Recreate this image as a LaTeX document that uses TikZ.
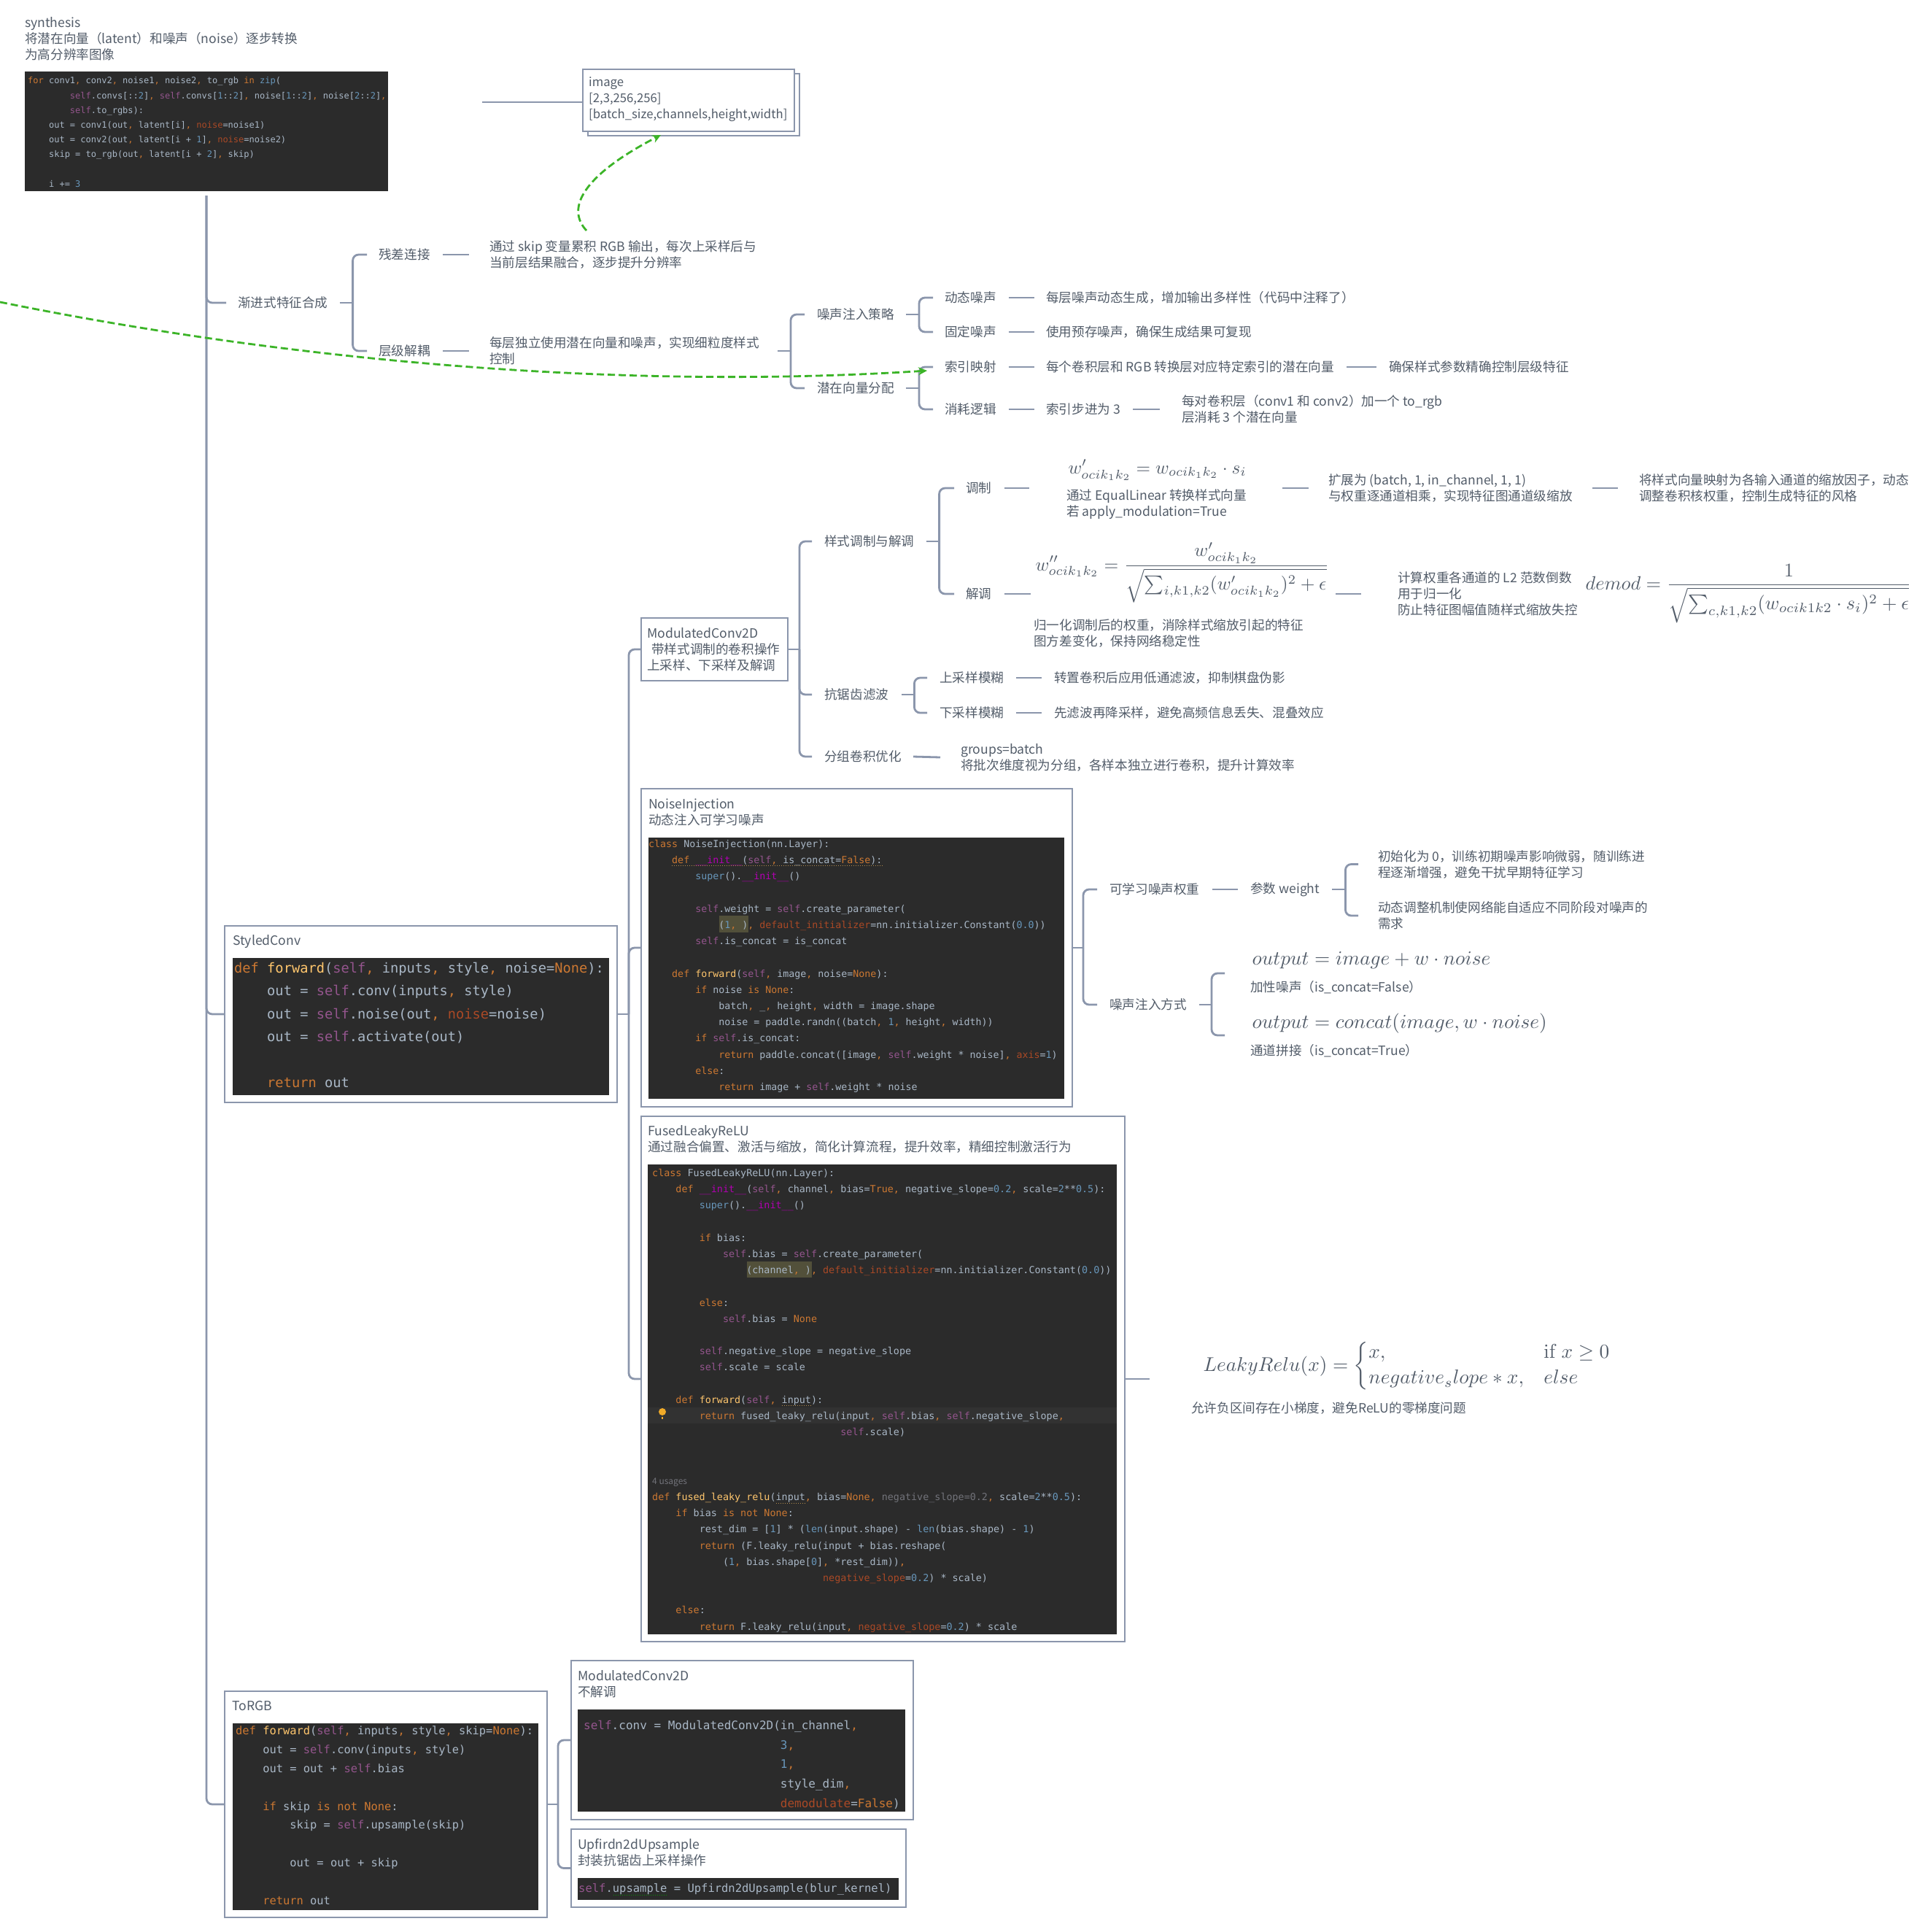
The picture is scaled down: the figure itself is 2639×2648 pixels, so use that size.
\documentclass[tikz,border=0pt]{standalone}
\usepackage{amsmath,amssymb}
\usepackage[no-math]{fontspec}
\setmainfont{Noto Sans CJK SC}
\setmonofont{DejaVu Sans Mono}
\usepackage{xcolor}
\usetikzlibrary{arrows.meta}
\definecolor{labelclr}{RGB}{82,92,105}
\definecolor{linkclr}{RGB}{139,150,172}
\definecolor{crossclr}{RGB}{60,180,40}
\definecolor{codebg}{RGB}{43,43,43}
\definecolor{codefg}{RGB}{169,183,198}
\definecolor{codekw}{RGB}{204,120,50}
\definecolor{codeself}{RGB}{148,85,141}
\definecolor{codenum}{RGB}{104,151,187}
\definecolor{codeprm}{RGB}{170,73,38}
\definecolor{codefnc}{RGB}{255,198,109}
\definecolor{codedun}{RGB}{178,0,178}
\definecolor{codedim}{RGB}{114,115,122}
\definecolor{codemark}{RGB}{82,80,58}
\definecolor{codeline}{RGB}{50,50,50}
\definecolor{bulbclr}{RGB}{240,170,40}
\tikzset{
  txt/.style={anchor=west,align=left,inner sep=0pt,text=labelclr,
              font=\fontsize{17.6}{22}\selectfont},
  fml/.style={anchor=base west,inner sep=0pt,text=labelclr,scale=2.73},
  boxframe/.style={anchor=north west,rectangle,draw=linkclr,line width=2.9pt,
              fill=white,inner sep=0pt,outer sep=0pt},
  codepanel/.style={anchor=north west,rectangle,fill=codebg,inner sep=0pt,outer sep=0pt},
  codetext/.style={anchor=north west,align=left,inner sep=0pt,text=codefg},
  link/.style={draw=linkclr,line width=2.8pt},
  hook/.style={link,rounded corners=8pt},
  crosslink/.style={-{Stealth[length=12pt,width=11pt]},draw=crossclr,line width=2.8pt,
              dash pattern=on 10pt off 5pt},
  squig/.style={line width=1pt,dotted},
}
\newcommand{\codefont}[2]{\fontsize{#1}{#2}\selectfont\ttfamily}
\newcommand{\ind}[1]{\leavevmode\hskip#1\fontcharwd\font`0\relax}
\newcommand{\kw}[1]{\textcolor{codekw}{#1}}
\newcommand{\slf}[1]{\textcolor{codeself}{#1}}
\newcommand{\nm}[1]{\textcolor{codenum}{#1}}
\newcommand{\prm}[1]{\textcolor{codeprm}{#1}}
\newcommand{\fnc}[1]{\textcolor{codefnc}{#1}}
\newcommand{\dun}[1]{\textcolor{codedun}{#1}}
\newcommand{\dimd}[1]{\textcolor{codedim}{#1}}
\begin{document}
\begin{tikzpicture}[x=1pt,y=-1pt]
\useasboundingbox (0,0) rectangle (2639,2648);
\node[txt] (synth) at (34,53) {synthesis\\将潜在向量（latent）和噪声（noise）逐步转换\\为高分辨率图像};
\node[codepanel,minimum width=498pt,minimum height=164pt] (synthcode) at (34,98) {};
\node[codetext,font=\codefont{12}{20.2}] (synthtext) at (38,100.6) {\strut\kw{for} conv1\kw{,} conv2\kw{,} noise1\kw{,} noise2\kw{,} to\_rgb \kw{in} \nm{zip}(\\
\ind{8}\slf{self}.convs[::\nm{2}]\kw{,} \slf{self}.convs[\nm{1}::\nm{2}]\kw{,} noise[\nm{1}::\nm{2}]\kw{,} noise[\nm{2}::\nm{2}]\kw{,}\\
\ind{8}\slf{self}.to\_rgbs):\\
\ind{4}out = conv1(out\kw{,} latent[i]\kw{,} \prm{noise}=noise1)\\
\ind{4}out = conv2(out\kw{,} latent[i + \nm{1}]\kw{,} \prm{noise}=noise2)\\
\ind{4}skip = to\_rgb(out\kw{,} latent[i + \nm{2}]\kw{,} skip)\\
\strut\\
\ind{4}i += \nm{3}};
\node[boxframe,minimum width=290pt,minimum height=85pt] (imageback) at (806,101) {};
\node[boxframe,minimum width=290pt,minimum height=85pt] (imagebox) at (799,95) {};
\node[txt,font=\fontsize{16.7}{22}\selectfont] (imagetxt) at (807,136) {image\\{[2,3,256,256]}\\{[batch\_size,channels,height,width]}};

\node[txt] (prog) at (326,415) {渐进式特征合成};
\node[txt] (resid) at (519,349) {残差连接};
\node[txt] (skipnote) at (671,349) {通过 skip 变量累积 RGB 输出，每次上采样后与\\当前层结果融合，逐步提升分辨率};
\node[txt] (layered) at (519,481) {层级解耦};
\node[txt] (laynote) at (671,481) {每层独立使用潜在向量和噪声，实现细粒度样式\\控制};
\node[txt] (noisestr) at (1120,431) {噪声注入策略};
\node[txt] (latalloc) at (1120,532) {潜在向量分配};
\node[txt] (dyn) at (1295,408) {动态噪声};
\node[txt] (dynnote) at (1434,408) {每层噪声动态生成，增加输出多样性（代码中注释了）};
\node[txt] (fixd) at (1295,455) {固定噪声};
\node[txt] (fixnote) at (1434,455) {使用预存噪声，确保生成结果可复现};
\node[txt] (idx) at (1295,503) {索引映射};
\node[txt] (idxnote) at (1434,503) {每个卷积层和 RGB 转换层对应特定索引的潜在向量};
\node[txt] (idxfin) at (1904,503) {确保样式参数精确控制层级特征};
\node[txt] (burn) at (1295,561) {消耗逻辑};
\node[txt] (burnstep) at (1434,561) {索引步进为 3};
\node[txt] (burnnote) at (1620,561) {每对卷积层（conv1 和 conv2）加一个 to\_rgb\\层消耗 3 个潜在向量};

\node[boxframe,minimum width=201pt,minimum height=86pt] (modconv) at (879,847) {};
\node[txt] (modtxt) at (887,890) {ModulatedConv2D\\\hspace*{6pt}带样式调制的卷积操作\\上采样、下采样及解调};
\node[txt] (styl) at (1130,742) {样式调制与解调};
\node[txt] (modu) at (1324,669) {调制};
\node[fml,scale=0.92] (wmod) at (1464,649) {$w'_{ocik_1k_2}=w_{ocik_1k_2}\cdot s_i$};
\node[txt] (wmodnote) at (1462,691) {通过 EqualLinear 转换样式向量\\若 apply\_modulation=True};
\coordinate (wmodend) at (1758,669);
\node[txt] (expand) at (1821,669) {扩展为 (batch, 1, in\_channel, 1, 1)\\与权重逐通道相乘，实现特征图通道级缩放};
\node[txt] (mapnote) at (2247,669) {将样式向量映射为各输入通道的缩放因子，动态\\调整卷积核权重，控制生成特征的风格};
\node[txt] (demo) at (1324,814) {解调};
\node[fml,scale=0.93] (wnorm) at (1419,782) {$\displaystyle w''_{ocik_1k_2}=\frac{w'_{ocik_1k_2}}{\sqrt{\sum_{i,k1,k2}(w'_{ocik_1k_2})^2+\epsilon}}$};
\node[txt] (wnormnote) at (1417,868) {归一化调制后的权重，消除样式缩放引起的特征\\图方差变化，保持网络稳定性};
\coordinate (wnormend) at (1831,814);
\node[txt] (l2note) at (1916,814) {计算权重各通道的 L2 范数倒数\\用于归一化\\防止特征图幅值随样式缩放失控};
\node[fml,scale=0.967] (demodf) at (2173,808) {$\displaystyle demod=\frac{1}{\sqrt{\sum_{c,k1,k2}(w_{ocik1k2}\cdot s_i)^2+\epsilon}}$};
\node[txt] (antialias) at (1130,952) {抗锯齿滤波};
\node[txt] (upblur) at (1288,929) {上采样模糊};
\node[txt] (upnote) at (1445,929) {转置卷积后应用低通滤波，抑制棋盘伪影};
\node[txt] (downblur) at (1288,977) {下采样模糊};
\node[txt] (downnote) at (1445,977) {先滤波再降采样，避免高频信息丢失、混叠效应};
\node[txt] (grouped) at (1130,1037) {分组卷积优化};
\node[txt] (groupnote) at (1317,1038) {groups=batch\\将批次维度视为分组，各样本独立进行卷积，提升计算效率};

\node[boxframe,minimum width=591pt,minimum height=436pt] (noisebox) at (879,1081) {};
\node[txt] (noisetxt) at (889,1113) {NoiseInjection\\动态注入可学习噪声};
\node[codepanel,minimum width=570pt,minimum height=358pt] (noisecode) at (889,1148) {};
\node[codepanel,fill=codemark,minimum width=40pt,minimum height=23pt] (noisemark) at (986,1255) {};
\node[codetext,font=\codefont{13.3}{22.2}] (noisetext) at (889,1145.8) {\strut\kw{class} NoiseInjection(nn.Layer):\\
\ind{4}\kw{def} \dun{\_\_init\_\_}(\slf{self}\kw{,} is\_concat=\kw{False}):\\
\ind{8}\nm{super}().\dun{\_\_init\_\_}()\\
\strut\\
\ind{8}\slf{self}.weight = \slf{self}.create\_parameter(\\
\ind{12}(\nm{1}\kw{,} )\kw{,} \prm{default\_initializer}=nn.initializer.Constant(\nm{0.0}))\\
\ind{8}\slf{self}.is\_concat = is\_concat\\
\strut\\
\ind{4}\kw{def} \fnc{forward}(\slf{self}\kw{,} image\kw{,} noise=\kw{None}):\\
\ind{8}\kw{if} noise \kw{is} \kw{None}:\\
\ind{12}batch\kw{,} \_\kw{,} height\kw{,} width = image.shape\\
\ind{12}noise = paddle.randn((batch\kw{,} \nm{1}\kw{,} height\kw{,} width))\\
\ind{8}\kw{if} \slf{self}.is\_concat:\\
\ind{12}\kw{return} paddle.concat([image\kw{,} \slf{self}.weight * noise]\kw{,} \prm{axis}=\nm{1})\\
\ind{8}\kw{else}:\\
\ind{12}\kw{return} image + \slf{self}.weight * noise};
\draw[squig,draw=codefnc!70!black] (921,1186) -- (1210,1186);
\node[txt] (learn) at (1521,1219) {可学习噪声权重};
\node[txt] (weight) at (1714,1219) {参数 weight};
\node[txt] (initnote) at (1889,1184.5) {初始化为 0，训练初期噪声影响微弱，随训练进\\程逐渐增强，避免干扰早期特征学习};
\node[txt] (adaptnote) at (1889,1255) {动态调整机制使网络能自适应不同阶段对噪声的\\需求};
\node[txt] (inject) at (1521,1377) {噪声注入方式};
\coordinate (addgrp) at (1714,1334);
\coordinate (concatgrp) at (1714,1419);
\node[fml] (addf) at (1716,1322) {$output=image+w\cdot noise$};
\node[txt] (addnote) at (1714,1353) {加性噪声（is\_concat=False）};
\node[fml] (concatf) at (1716,1409) {$output=concat(image,w\cdot noise)$};
\node[txt] (concatnote) at (1714,1440) {通道拼接（is\_concat=True）};

\node[boxframe,minimum width=663pt,minimum height=720pt] (fusedbox) at (879,1530) {};
\node[txt] (fusedtxt) at (888,1561) {FusedLeakyReLU\\通过融合偏置、激活与缩放，简化计算流程，提升效率，精细控制激活行为};
\node[codepanel,minimum width=643pt,minimum height=644pt] (fusedcode) at (888,1596) {};
\node[codepanel,fill=codemark,minimum width=89pt,minimum height=22pt] (fusedmark) at (1024,1729) {};
\node[codepanel,fill=codeline,minimum width=643pt,minimum height=22pt] (fusedline) at (888,1929) {};
\node[circle,fill=bulbclr,minimum size=10pt,inner sep=0pt] (bulb) at (908,1935) {};
\draw[draw=bulbclr,line width=2pt] ([yshift=-7pt]bulb.center) -- ++(0,3);
\node[codetext,font=\codefont{13.4}{22.2}] (fusedtext) at (894,1596.8) {\strut\kw{class} FusedLeakyReLU(nn.Layer):\\
\ind{4}\kw{def} \dun{\_\_init\_\_}(\slf{self}\kw{,} channel\kw{,} bias=\kw{True}\kw{,} negative\_slope=\nm{0.2}\kw{,} scale=\nm{2}**\nm{0.5}):\\
\ind{8}\nm{super}().\dun{\_\_init\_\_}()\\
\strut\\
\ind{8}\kw{if} bias:\\
\ind{12}\slf{self}.bias = \slf{self}.create\_parameter(\\
\ind{16}(channel\kw{,} )\kw{,} \prm{default\_initializer}=nn.initializer.Constant(\nm{0.0}))\\
\strut\\
\ind{8}\kw{else}:\\
\ind{12}\slf{self}.bias = \kw{None}\\
\strut\\
\ind{8}\slf{self}.negative\_slope = negative\_slope\\
\ind{8}\slf{self}.scale = scale\\
\strut\\
\ind{4}\kw{def} \fnc{forward}(\slf{self}\kw{,} input):\\
\ind{8}\kw{return} fused\_leaky\_relu(input\kw{,} \slf{self}.bias\kw{,} \slf{self}.negative\_slope\kw{,}\\
\ind{32}\slf{self}.scale)\\
\strut\\
\strut\\
\dimd{\rmfamily\fontsize{12}{22}\selectfont 4 usages}\\
\kw{def} \fnc{fused\_leaky\_relu}(input\kw{,} bias=\kw{None}\kw{,} \dimd{negative\_slope=0.2}\kw{,} scale=\nm{2}**\nm{0.5}):\\
\ind{4}\kw{if} bias \kw{is not} \kw{None}:\\
\ind{8}rest\_dim = [\nm{1}] * (\nm{len}(input.shape) - \nm{len}(bias.shape) - \nm{1})\\
\ind{8}\kw{return} (F.leaky\_relu(input + bias.reshape(\\
\ind{12}(\nm{1}\kw{,} bias.shape[\nm{0}]\kw{,} *rest\_dim))\kw{,}\\
\ind{29}\prm{negative\_slope}=\nm{0.2}) * scale)\\
\strut\\
\ind{4}\kw{else}:\\
\ind{8}\kw{return} F.leaky\_relu(input\kw{,} \prm{negative\_slope}=\nm{0.2}) * scale};
\draw[squig,draw=codefnc!70!black] (1072,1926) -- (1113,1926);
\draw[squig,draw=codefnc!70!black] (1064,2060) -- (1104,2060);
\node[fml] (leakyf) at (1649,1879) {\def\arraystretch{1.08}$LeakyRelu(x)=\left\{\begin{array}{@{}l@{\quad}l@{}}x,&\mathrm{if}\ x\geq 0\\negative_{s}lope*x,&else\end{array}\right.$};
\node[txt] (leakynote) at (1633,1930) {允许负区间存在小梯度，避免ReLU的零梯度问题};

\node[boxframe,minimum width=538pt,minimum height=242pt] (styled) at (308,1269) {};
\node[txt] (styledtxt) at (319,1291) {StyledConv};
\node[codepanel,minimum width=516pt,minimum height=188pt] (styledcode) at (319,1313) {};
\node[codetext,font=\codefont{18.7}{31.5}] (styledtext) at (321,1311) {\strut\kw{def} \fnc{forward}(\slf{self}\kw{,} inputs\kw{,} style\kw{,} noise=\kw{None}):\\
\ind{4}out = \slf{self}.conv(inputs\kw{,} style)\\
\ind{4}out = \slf{self}.noise(out\kw{,} \prm{noise}=noise)\\
\ind{4}out = \slf{self}.activate(out)\\
\strut\\
\ind{4}\kw{return} out};

\node[boxframe,minimum width=442pt,minimum height=310pt] (torgb) at (308,2318) {};
\node[txt] (torgbtxt) at (318,2338) {ToRGB};
\node[codepanel,minimum width=419pt,minimum height=256pt] (torgbcode) at (319,2362) {};
\node[codetext,font=\codefont{15.4}{25.8}] (torgbtext) at (323,2359.6) {\strut\kw{def} \fnc{forward}(\slf{self}\kw{,} inputs\kw{,} style\kw{,} skip=\kw{None}):\\
\ind{4}out = \slf{self}.conv(inputs\kw{,} style)\\
\ind{4}out = out + \slf{self}.bias\\
\strut\\
\ind{4}\kw{if} skip \kw{is not} \kw{None}:\\
\ind{8}skip = \slf{self}.upsample(skip)\\
\strut\\
\ind{8}out = out + skip\\
\strut\\
\ind{4}\kw{return} out};

\node[boxframe,minimum width=469pt,minimum height=218pt] (modnone) at (783,2276) {};
\node[txt] (modnonetxt) at (792,2308) {ModulatedConv2D\\不解调};
\node[codepanel,minimum width=449pt,minimum height=140pt] (modnonecode) at (792,2343) {};
\node[codetext,font=\codefont{16}{26.7}] (modnonetext) at (800,2351.6) {\strut\slf{self}.conv = ModulatedConv2D(in\_channel\kw{,}\\
\ind{28}\nm{3}\kw{,}\\
\ind{28}\nm{1}\kw{,}\\
\ind{28}style\_dim\kw{,}\\
\ind{28}\prm{demodulate}=\kw{False})};

\node[boxframe,minimum width=459pt,minimum height=107pt] (upfir) at (783,2507) {};
\node[txt] (upfirtxt) at (792,2539) {Upfirdn2dUpsample\\封装抗锯齿上采样操作};
\node[codepanel,minimum width=440pt,minimum height=30pt] (upfircode) at (792,2574) {};
\node[codetext,font=\codefont{15.5}{30}] (upfirtext) at (793,2572) {\strut\slf{self}.upsample = Upfirdn2dUpsample(blur\_kernel)};
\draw[squig,draw=green!60!black] (841,2597) -- (915,2597);

\coordinate (trunktop) at ([yshift=-6pt]synthcode.south);
\draw[hook] (trunktop) |- ([xshift=-16pt]prog.west);
\foreach \kid in {styled,torgb} \draw[hook] (trunktop) |- (\kid.west);
\coordinate (synthend) at (661,140);
\draw[link] (synthend) -- (synthend -| imagebox.west);

\draw[link] ([xshift=16pt]prog.east) -- ++(18,0) coordinate (progfork);
\foreach \kid in {resid,layered} \draw[hook] (progfork) |- ([xshift=-16pt]\kid.west);
\draw[link] ([xshift=17pt]resid.east) -- ([xshift=-28pt]skipnote.west);
\draw[link] ([xshift=17pt]layered.east) -- ([xshift=-28pt]laynote.west);
\draw[link] ([xshift=25pt]laynote.east) -- ++(18,0) coordinate (layfork);
\foreach \kid in {noisestr,latalloc} \draw[hook] (layfork) |- ([xshift=-17pt]\kid.west);
\draw[link] ([xshift=16pt]noisestr.east) -- ++(18,0) coordinate (strfork);
\foreach \kid in {dyn,fixd} \draw[hook] (strfork) |- ([xshift=-16pt]\kid.west);
\draw[link] ([xshift=16pt]latalloc.east) -- ++(18,0) coordinate (allocfork);
\foreach \kid in {idx,burn} \draw[hook] (allocfork) |- ([xshift=-16pt]\kid.west);
\draw[link] ([xshift=17pt]dyn.east) -- ([xshift=-16pt]dynnote.west);
\draw[link] ([xshift=17pt]fixd.east) -- ([xshift=-16pt]fixnote.west);
\draw[link] ([xshift=17pt]idx.east) -- ([xshift=-16pt]idxnote.west);
\draw[link] ([xshift=17pt]idxnote.east) -- ([xshift=-17pt]idxfin.west);
\draw[link] ([xshift=17pt]burn.east) -- ([xshift=-16pt]burnstep.west);
\draw[link] ([xshift=17pt]burnstep.east) -- ([xshift=-30pt]burnnote.west);

\draw[link] (styled.east) -- ++(16,0) coordinate (styledfork);
\foreach \kid in {modconv,noisebox,fusedbox} \draw[hook] (styledfork) |- (\kid.west);
\draw[link] (modconv.east) -- ++(16,0) coordinate (modfork);
\foreach \kid in {styl,antialias,grouped} \draw[hook] (modfork) |- ([xshift=-17pt]\kid.west);
\draw[link] ([xshift=16pt]styl.east) -- ++(18,0) coordinate (stylfork);
\foreach \kid in {modu,demo} \draw[hook] (stylfork) |- ([xshift=-16pt]\kid.west);
\draw[link] ([xshift=17pt]modu.east) -- ([xshift=-51pt]wmodnote.west |- modu.east);
\draw[link] (wmodend) -- ([xshift=-27pt]expand.west);
\draw[link] ([xshift=27pt]expand.east) -- ([xshift=-29pt]mapnote.west);
\draw[link] ([xshift=17pt]demo.east) -- ++(36,0);
\draw[link] (wnormend) -- ([xshift=-50pt]l2note.west);
\draw[link] ([xshift=18pt]antialias.east) -- ++(17,0) coordinate (aafork);
\foreach \kid in {upblur,downblur} \draw[hook] (aafork) |- ([xshift=-17pt]\kid.west);
\draw[link] ([xshift=17pt]upblur.east) -- ([xshift=-17pt]upnote.west);
\draw[link] ([xshift=17pt]downblur.east) -- ([xshift=-17pt]downnote.west);
\draw[link] ([xshift=16pt]grouped.east) -- ([xshift=-28pt]groupnote.west);

\draw[link] (noisebox.east) -- ++(15,0) coordinate (noisefork);
\foreach \kid in {learn,inject} \draw[hook] (noisefork) |- ([xshift=-17pt]\kid.west);
\draw[link] ([xshift=17pt]learn.east) -- ([xshift=-17pt]weight.west);
\draw[link] ([xshift=17pt]weight.east) -- ++(18,0) coordinate (weightfork);
\foreach \kid in {initnote,adaptnote} \draw[hook] (weightfork) |- ([xshift=-27pt]\kid.west);
\draw[link] ([xshift=17pt]inject.east) -- ++(17,0) coordinate (injectfork);
\foreach \kid in {addgrp,concatgrp} \draw[hook] (injectfork) |- ([xshift=-35pt]\kid);
\draw[link] (fusedbox.east) -- ++(34,0);
\draw[link] (torgb.east) -- ++(15,0) coordinate (torgbfork);
\foreach \kid in {modnone,upfir} \draw[hook] (torgbfork) |- (\kid.west);

\coordinate (cross1a) at (804,316);
\coordinate (cross1b) at (906,185);
\coordinate (cross2a) at (0,414);
\coordinate (cross2b) at (1271,508);
\draw[crosslink] (cross1a) .. controls (775,285) and (800,240) .. (cross1b);
\draw[crosslink] (cross2a) .. controls (400,495) and (850,535) .. (cross2b);
\end{tikzpicture}
\end{document}
